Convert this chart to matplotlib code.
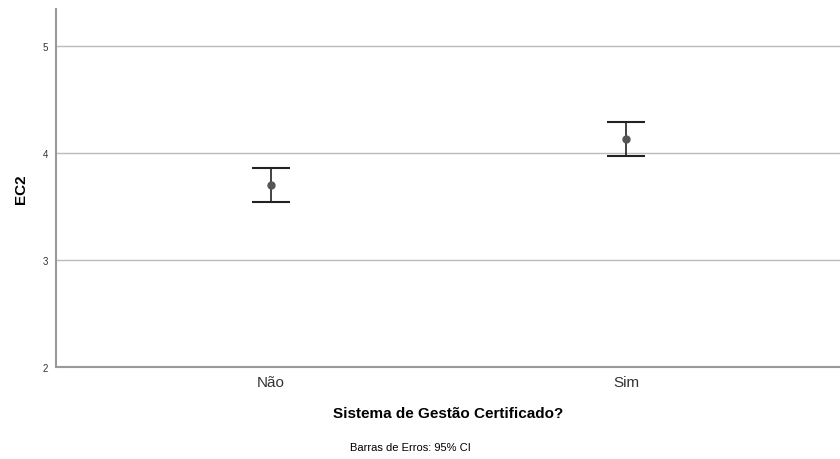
import matplotlib
matplotlib.use("Agg")
from matplotlib import pyplot as plt

plt.rcParams['font.family'] = ['Liberation Sans', 'DejaVu Sans']

categories = ["Não", "Sim"]
means = [3.70, 4.13]
ci_low = [3.54, 3.97]
ci_high = [3.86, 4.29]

fig = plt.figure(figsize=(8.4, 4.6), dpi=100)
ax = fig.add_axes([0.0667, 0.2, 0.9333, 0.778])

xs = list(range(len(categories)))
err_lo = [m - l for m, l in zip(means, ci_low)]
err_hi = [h - m for m, h in zip(means, ci_high)]
ax.errorbar(xs, means, yerr=[err_lo, err_hi], fmt='o', color='#555555',
            ecolor='#222222', elinewidth=1.2, capsize=13.5, capthick=1.5,
            markersize=5, zorder=3)

ax.set_xlim(-0.606, 1.603)
ax.set_ylim(2, 5.34)
ax.set_yticks([2, 3, 4, 5])
ax.set_xticks(xs)
ax.set_xticklabels(categories, fontsize=11, color='#333333')
ax.tick_params(axis='y', length=0, labelsize=7, pad=6, labelcolor='#333333')
ax.tick_params(axis='x', length=0, pad=6)
ax.yaxis.grid(True, color='#bbbbbb', linewidth=1)
ax.set_axisbelow(True)

for s in ['top', 'right']:
    ax.spines[s].set_visible(False)
for s in ['left', 'bottom']:
    ax.spines[s].set_color('#999999')
    ax.spines[s].set_linewidth(1.5)

ax.set_ylabel("EC2", fontsize=11, fontweight='bold', labelpad=10)
ax.set_xlabel("Sistema de Gestão Certificado?", fontsize=11, fontweight='bold', labelpad=12)
fig.text(0.488, 0.026, "Barras de Erros: 95% CI", fontsize=8, ha='center', va='center')

fig.savefig("out.png", dpi=100)
